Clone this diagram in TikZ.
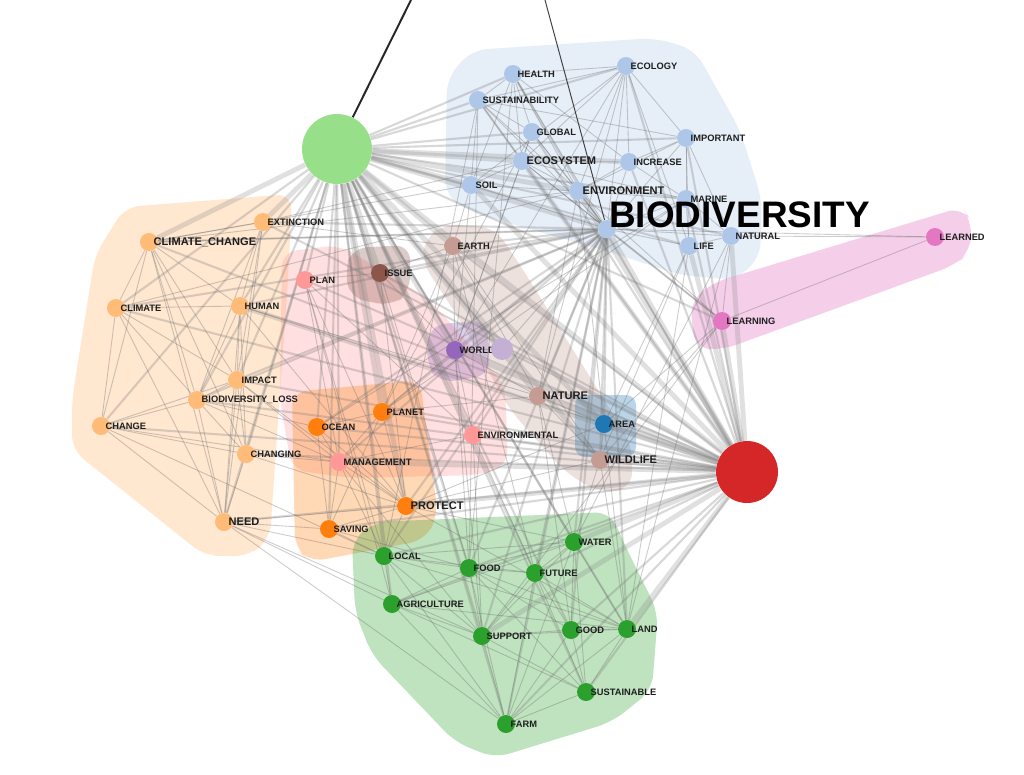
\documentclass[tikz,border=0pt]{standalone}
\usepackage{fontspec}
\setmainfont{Liberation Sans}
\usepackage{xcolor}
\usepackage{tikz}
\usetikzlibrary{calc,positioning,shapes.geometric}

\definecolor{cBlueLt}{HTML}{AEC7E8}
\definecolor{cOrangeLt}{HTML}{FFBB78}
\definecolor{cPink}{HTML}{FF9896}
\definecolor{cBrown}{HTML}{8C564B}
\definecolor{cBrownLt}{HTML}{C49C94}
\definecolor{cPurple}{HTML}{9467BD}
\definecolor{cPurpleLt}{HTML}{C5B0D5}
\definecolor{cBlue}{HTML}{1F77B4}
\definecolor{cOrange}{HTML}{FF7F0E}
\definecolor{cGreen}{HTML}{2CA02C}
\definecolor{cGreenLt}{HTML}{98DF8A}
\definecolor{cRed}{HTML}{D62728}
\definecolor{cMagenta}{HTML}{E377C2}
\definecolor{cText}{HTML}{1E1E1E}

\newcommand{\lblfont}{\fontsize{5.3}{6}\selectfont\bfseries}
\newcommand{\lblbigfont}{\fontsize{6.3}{7}\selectfont\bfseries}

\pgfdeclarelayer{bg}
\pgfdeclarelayer{hull}
\pgfdeclarelayer{edges}
\pgfsetlayers{bg,hull,edges,main}

\begin{document}
\begin{tikzpicture}[x=0.02cm, y=-0.02cm,
    word/.style={circle, inner sep=0pt, minimum size=0.36cm, fill=#1},
    hub/.style={circle, inner sep=0pt, minimum size=#1},
    lbl/.style={text=cText, font=\lblfont, inner sep=0pt, label distance=-0.1cm},
    lab/.style={label={[lbl]0:#1}},
    labB/.style={label={[lbl, font=\lblbigfont]0:#1}},
    hull/.style={fill=#1, fill opacity=0.3, rounded corners=0.3cm},
    edge/.style={draw=black!60, draw opacity=0.33, line width=0.5pt},
    edge mid/.style={draw=black!55, draw opacity=0.28, line width=1.2pt},
    edge thick/.style={draw=black!50, draw opacity=0.24, line width=2.8pt},
    link/.style={draw=black!85, line width=1.1pt},
    link thin/.style={draw=black!75, line width=0.55pt}]

    \begin{pgfonlayer}{bg}
    \fill[white] (0,0) rectangle (1024,774);
    \end{pgfonlayer}
    \useasboundingbox (0,0) rectangle (1024,774);

    % hulls of the groups
    \begin{pgfonlayer}{hull}
    \fill[hull=cBlueLt] (447,78) -- (472,50) -- (655,38) -- (695,50) -- (740,130) -- (762,200) -- (760,258) -- (735,280) -- (680,275) -- (610,252) -- (470,212) -- (445,195) -- cycle;
    \fill[hull=cOrangeLt, fill opacity=0.34] (125,207) -- (292,194) -- (288,280) -- (276,450) -- (270,538) -- (250,556) -- (205,556) -- (72,450) -- (72,400) -- (95,255) -- cycle;
    \fill[hull=cPink] (282,252) -- (340,245) -- (430,300) -- (505,385) -- (508,465) -- (480,475) -- (350,478) -- (292,470) -- (280,400) -- cycle;
    \fill[hull=cOrange] (292,392) -- (420,380) -- (438,515) -- (425,540) -- (310,562) -- (295,548) -- cycle;
    \fill[hull=cGreen] (352,540) -- (375,522) -- (610,512) -- (632,560) -- (658,612) -- (652,690) -- (612,722) -- (495,758) -- (455,742) -- (372,655) -- (355,612) -- cycle;
    \fill[hull=cMagenta, fill opacity=0.35] (690,302) -- (712,283) -- (962,207) -- (972,222) -- (970,252) -- (955,265) -- (722,350) -- (695,348) -- cycle;
    \fill[hull=cBrownLt] (425,238) -- (445,224) -- (495,228) -- (520,265) -- (595,385) -- (632,445) -- (632,488) -- (600,493) -- (565,472) -- (510,410) -- (460,320) -- (422,262) -- cycle;
    \fill[hull=cBrown] (352,248) -- (410,245) -- (410,292) -- (392,306) -- (350,298) -- (345,270) -- cycle;
    \fill[hull=cPurple] (430,325) -- (487,320) -- (490,375) -- (440,383) -- (426,365) -- cycle;
    \fill[hull=cBlue, rounded corners=0.2cm] (575,395) rectangle (636,457);
    \end{pgfonlayer}

    % hubs
    \node[hub=1.4cm, fill=cGreenLt] at (337,149) (hubG) {};
    \node[hub=1.24cm, fill=cRed] at (747,472) (hubR) {};

    % blue group
    \node[word=cBlueLt, lab=HEALTH] at (513,74) (health) {};
    \node[word=cBlueLt, lab=SUSTAINABILITY] at (478,100) (sustainability) {};
    \node[word=cBlueLt, lab=GLOBAL] at (532,132) (global) {};
    \node[word=cBlueLt, labB=ECOSYSTEM] at (522,161) (ecosystem) {};
    \node[word=cBlueLt, lab=SOIL] at (471,185) (soil) {};
    \node[word=cBlueLt, lab=ECOLOGY] at (626,66) (ecology) {};
    \node[word=cBlueLt, lab=IMPORTANT] at (686,138) (important) {};
    \node[word=cBlueLt, lab=INCREASE] at (629,162) (increase) {};
    \node[word=cBlueLt, labB=ENVIRONMENT] at (578,191) (environment) {};
    \node[word=cBlueLt, lab=MARINE] at (686,199) (marine) {};
    \node[word=cBlueLt] at (607,229) (biodiv) {};
    \node[word=cBlueLt, lab=NATURAL] at (731,236) (natural) {};
    \node[word=cBlueLt, lab=LIFE] at (689,246) (life) {};

    % light orange group
    \node[word=cOrangeLt, lab=EXTINCTION] at (263,222) (extinction) {};
    \node[word=cOrangeLt, labB=CLIMATE\_CHANGE] at (149,242) (climatechange) {};
    \node[word=cOrangeLt, lab=CLIMATE] at (116,308) (climate) {};
    \node[word=cOrangeLt, lab=HUMAN] at (240,306) (human) {};
    \node[word=cOrangeLt, lab=IMPACT] at (237,380) (impact) {};
    \node[word=cOrangeLt, lab=BIODIVERSITY\_LOSS] at (197,400) (bdloss) {};
    \node[word=cOrangeLt, lab=CHANGE] at (101,426) (change) {};
    \node[word=cOrangeLt, lab=CHANGING] at (246,454) (changing) {};
    \node[word=cOrangeLt, labB=NEED] at (224,522) (need) {};

    % middle groups
    \node[word=cPink, lab=PLAN] at (305,280) (plan) {};
    \node[word=cPink, lab=MANAGEMENT] at (339,462) (management) {};
    \node[word=cPink, lab=ENVIRONMENTAL] at (473,435) (environmental) {};
    \node[word=cBrown, lab=ISSUE] at (380,273) (issue) {};
    \node[word=cBrownLt, lab=EARTH] at (453,246) (earth) {};
    \node[word=cBrownLt, labB=NATURE] at (538,396) (nature) {};
    \node[word=cBrownLt, labB=WILDLIFE] at (600,460) (wildlife) {};
    \node[word=cPurple, lab=WORLD] at (455,350) (world) {};
    \node[word=cPurpleLt, minimum size=0.44cm] at (502,349) (worldb) {};
    \node[word=cBlue, lab=AREA] at (604,424) (area) {};
    \node[word=cOrange, lab=OCEAN] at (317,427) (ocean) {};
    \node[word=cOrange, lab=PLANET] at (382,412) (planet) {};
    \node[word=cOrange, labB=PROTECT] at (406,506) (protect) {};
    \node[word=cOrange, lab=SAVING] at (329,529) (saving) {};

    % green group
    \node[word=cGreen, lab=LOCAL] at (384,556) (local) {};
    \node[word=cGreen, lab=FOOD] at (469,568) (food) {};
    \node[word=cGreen, lab=FUTURE] at (535,573) (future) {};
    \node[word=cGreen, lab=WATER] at (574,542) (water) {};
    \node[word=cGreen, lab=AGRICULTURE] at (392,604) (agriculture) {};
    \node[word=cGreen, lab=SUPPORT] at (482,636) (support) {};
    \node[word=cGreen, lab=GOOD] at (571,630) (good) {};
    \node[word=cGreen, lab=LAND] at (627,629) (land) {};
    \node[word=cGreen, lab=SUSTAINABLE] at (586,692) (sustainable) {};
    \node[word=cGreen, lab=FARM] at (506,724) (farm) {};

    % pink pair
    \node[word=cMagenta, lab=LEARNING] at (722,321) (learning) {};
    \node[word=cMagenta, lab=LEARNED] at (935,237) (learned) {};

    \node[anchor=west, inner sep=0pt, font=\fontsize{21}{21}\selectfont\bfseries] at (609,215) (bioTitle) {BIODIVERSITY};

    \coordinate (outA) at (411,0);
    \coordinate (outB) at (545,0);

    \begin{pgfonlayer}{edges}
    \foreach \n in {biodiv, environment, ecosystem, soil, world, nature, area, wildlife, protect, support, management, human, learning, natural, life, water, land, hubG}
        \draw[edge thick] (hubR) -- (\n);
    \foreach \n in {sustainability, health, global, ecology, increase, important, marine, earth, issue, worldb, environmental, plan, ocean, planet, saving, local, food, future, agriculture, good, sustainable, farm, impact, bdloss, climatechange, changing, need, climate, extinction, change}
        \draw[edge mid] (hubR) -- (\n);
    \foreach \n in {biodiv, environment, soil, ecosystem, world, issue, nature, earth, area, protect, planet, climatechange, extinction, wildlife, increase}
        \draw[edge thick] (hubG) -- (\n);
    \foreach \n in {health, sustainability, global, ecology, important, marine, natural, life, plan, management, environmental, ocean, saving, local, food, future, water, agriculture, support, good, land, sustainable, farm, human, impact, bdloss, change, changing, need, climate, worldb, learning}
        \draw[edge mid] (hubG) -- (\n);
    \foreach \n in {area, wildlife, nature, protect, support, local, food, water, land, learning, world, earth, issue, planet, ocean, human, climate, impact, bdloss, climatechange, extinction, management, environmental, farm, good, future}
        \draw[edge mid] (biodiv) -- (\n);
    \foreach \a/\b in {health/sustainability, health/global, health/ecosystem, health/environment, health/ecology, health/soil, health/increase, sustainability/global, sustainability/ecosystem, sustainability/soil, sustainability/environment, sustainability/ecology, sustainability/important, global/ecosystem, global/environment, global/biodiv, ecosystem/soil, ecosystem/environment, ecosystem/biodiv, ecosystem/increase, ecosystem/marine, ecology/biodiv, ecology/environment, ecology/increase, ecology/important, ecology/life, ecology/soil, ecology/ecosystem, important/increase, important/marine, important/life, important/natural, important/biodiv, important/environment, increase/environment, increase/biodiv, increase/marine, environment/biodiv, environment/marine, environment/soil, marine/biodiv, marine/life, marine/natural, biodiv/life, biodiv/natural, natural/life, soil/biodiv, health/biodiv, sustainability/biodiv}
        \draw[edge] (\a) -- (\b);
    \foreach \a/\b in {climatechange/extinction, climatechange/climate, climatechange/human, climatechange/impact, climatechange/bdloss, climatechange/changing, climatechange/need, climatechange/change, climate/change, climate/human, climate/impact, climate/bdloss, climate/need, human/impact, human/bdloss, human/changing, human/need, human/extinction, impact/bdloss, impact/change, impact/changing, impact/need, bdloss/change, bdloss/need, bdloss/changing, change/changing, change/need, changing/need, extinction/impact, extinction/need, extinction/bdloss}
        \draw[edge] (\a) -- (\b);
    \foreach \a/\b in {local/food, local/agriculture, local/support, local/farm, local/water, local/future, local/land, food/future, food/water, food/agriculture, food/support, food/good, food/land, food/farm, food/sustainable, future/water, future/support, future/good, future/land, future/sustainable, future/farm, water/support, water/good, water/land, water/sustainable, water/farm, water/agriculture, agriculture/support, agriculture/farm, agriculture/land, agriculture/sustainable, support/good, support/land, support/farm, support/sustainable, good/land, good/sustainable, good/farm, land/sustainable, land/farm, sustainable/farm}
        \draw[edge] (\a) -- (\b);
    \foreach \a/\b in {ocean/planet, ocean/management, ocean/protect, ocean/saving, planet/management, planet/protect, planet/saving, management/protect, management/saving, protect/saving, plan/management, plan/environmental, plan/protect, plan/issue, environmental/management, environmental/world, issue/world, issue/earth, earth/nature, earth/wildlife, nature/wildlife, nature/area, area/wildlife, world/worldb, world/nature, world/earth}
        \draw[edge] (\a) -- (\b);
    \foreach \a/\b in {climatechange/biodiv, climate/environment, human/nature, human/area, human/protect, impact/protect, impact/management, bdloss/ocean, bdloss/management, change/management, changing/management, changing/protect, need/protect, need/saving, need/local, need/farm, need/agriculture, need/support, change/local, extinction/earth, extinction/ecosystem, climatechange/soil, climatechange/environment, soil/earth, soil/world, ecosystem/world, environment/nature, environment/area, biodiv/worldb, ecology/world, ecology/nature, life/wildlife, life/area, life/land, natural/land, natural/water, natural/learning, marine/ocean, marine/planet, health/food, sustainability/food, sustainability/local, global/world, global/planet, protect/water, protect/land, protect/local, protect/area, protect/wildlife, saving/local, saving/food, planet/world, planet/nature, world/support, world/food, nature/water, nature/good, area/land, wildlife/land, wildlife/water, environmental/support, environmental/future, management/local, management/support, issue/protect, issue/food, earth/planet, earth/future, plan/local, plan/agriculture, learning/area, learning/wildlife, learning/environment, learning/ecosystem, learning/support, learning/learned, natural/learned, biodiv/learned}
        \draw[edge] (\a) -- (\b);
    \draw[link] (hubG) -- (outA);
    \draw[link thin] (biodiv) -- (outB);
    \end{pgfonlayer}
\end{tikzpicture}
\end{document}
